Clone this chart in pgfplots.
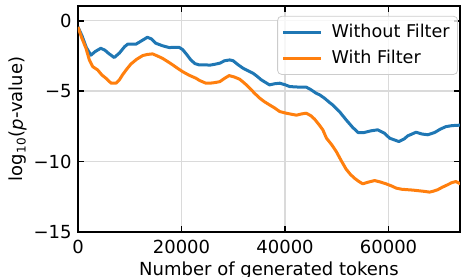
\documentclass[border=0pt]{standalone}
\usepackage{fontspec}
\setmainfont{DejaVu Sans}
\usepackage{pgfplots}
\pgfplotsset{compat=1.18}
\definecolor{tabblue}{HTML}{1F77B4}
\definecolor{taborange}{HTML}{FF7F0E}
\definecolor{gridgray}{HTML}{DADADA}
\begin{document}
\fontsize{9}{11}\selectfont
\begin{tikzpicture}
\begin{axis}[
  scale only axis,
  width=191pt, height=113.15pt,
  xmin=0, xmax=73800, ymin=-15, ymax=1.06,
  font=\fontsize{9}{11}\selectfont,
  axis line style={line width=0.9pt},
  major tick style={line width=0.9pt, black},
  major tick length=3pt,
  tick align=inside,
  xtick={0,20000,40000,60000},
  xticklabels={0,20000,40000,60000},
  ytick={-15,-10,-5,0},
  yticklabels={−15,−10,−5,0},
  scaled x ticks=false,
  xticklabel style={yshift=-1pt},
  grid=major,
  major grid style={gridgray, line width=0.6pt},
  xlabel={Number of generated tokens},
  ylabel={log\textsubscript{10}(\textit{p}-value)},
  x label style={at={(axis description cs:0.5,0)}, anchor=north, inner sep=0pt, yshift=-14.5pt},
  y label style={at={(axis description cs:-0.157,0.5)}, anchor=center},
  legend style={at={(rel axis cs:1,0.955)}, anchor=north east, xshift=-1pt, draw=gray!40, rounded corners=2pt,
    fill=white, fill opacity=0.8, text opacity=1, font=\fontsize{8.8}{11}\selectfont,
    inner xsep=2pt, inner ysep=2pt, row sep=1pt},
  legend cell align=left,
  legend image code/.code={\draw[#1] (0pt,0pt) -- (19pt,0pt); \path (21.5pt,0pt);},
]
\coordinate (sw) at (rel axis cs:0,0);
\coordinate (ne) at (rel axis cs:1,1);
\addplot[tabblue, line width=1.5pt, line join=round] coordinates {
(0,-0.45) (800,-1.1) (1600,-1.9) (2500,-2.45) (3300,-2.2) (4400,-1.96) (5200,-2.1) (6000,-2.35)
(7000,-2.62) (8000,-2.3) (9000,-1.85) (9600,-1.67) (11200,-1.67) (12200,-1.45) (13400,-1.18)
(14200,-1.3) (15000,-1.6) (16300,-1.78) (17600,-1.91) (19500,-1.89) (20200,-2.05) (21000,-2.4)
(21800,-2.79) (22600,-3.05) (23400,-3.14) (24700,-3.14) (25460,-3.16) (26400,-3.1) (27400,-3.02)
(28300,-2.85) (29300,-2.79) (29950,-2.84) (31000,-3.15) (31900,-3.38) (33800,-3.73) (34600,-3.95)
(35400,-4.2) (37000,-4.56) (38000,-4.48) (38960,-4.44) (40000,-4.55) (40900,-4.68) (42800,-4.72)
(44100,-4.72) (45000,-4.9) (46000,-5.15) (46700,-5.27) (47600,-5.5) (48600,-5.81) (49200,-5.98)
(50500,-6.45) (51800,-7.04) (53000,-7.55) (54100,-7.94) (55300,-7.94) (56600,-7.82) (57900,-7.75)
(59200,-7.99) (60200,-8.34) (61000,-8.45) (62000,-8.58) (63000,-8.4) (63700,-8.18) (65300,-7.92)
(66500,-8.05) (67600,-8.1) (68900,-7.94) (70000,-7.7) (71100,-7.52) (72300,-7.45) (73700,-7.42)
(74000,-7.42)
};
\addlegendentry{Without Filter}
\addplot[taborange, line width=1.5pt, line join=round] coordinates {
(0,-0.45) (700,-1.2) (1540,-1.96) (2200,-2.8) (2830,-3.26) (3800,-3.5) (4600,-3.85) (5400,-4.09)
(6400,-4.44) (7330,-4.44) (8000,-4.2) (8600,-3.85) (9400,-3.45) (10200,-3.09) (11300,-2.75)
(12500,-2.48) (13400,-2.4) (14400,-2.36) (15300,-2.5) (16300,-2.67) (17300,-2.9) (18300,-3.14)
(19300,-3.4) (20200,-3.62) (21500,-3.88) (22800,-4.09) (23500,-4.25) (24700,-4.44) (25460,-4.44)
(26400,-4.4) (27400,-4.33) (28300,-4.1) (29200,-3.9) (30200,-4.0) (31240,-4.16) (32200,-4.45)
(33170,-4.79) (34100,-5.15) (35100,-5.5) (36000,-5.75) (37000,-5.98) (38000,-6.2) (38960,-6.45)
(40000,-6.55) (40900,-6.62) (42200,-6.71) (43200,-6.62) (44100,-6.57) (45000,-6.75) (45700,-6.99)
(46500,-7.35) (47300,-7.75) (48000,-8.34) (49000,-8.8) (49900,-9.29) (50800,-9.9) (51800,-10.54)
(52600,-10.9) (53400,-11.18) (54200,-11.4) (55000,-11.58) (56200,-11.45) (57300,-11.35) (58400,-11.45)
(59500,-11.58) (60500,-11.72) (61500,-11.89) (62600,-11.97) (63700,-12.0) (64800,-12.03) (66000,-12.08)
(67000,-12.12) (67900,-12.17) (68700,-12.1) (69500,-12.0) (70400,-11.82) (71400,-11.65) (72200,-11.5)
(73000,-11.42) (73700,-11.55) (74000,-11.6)
};
\addlegendentry{With Filter}
\end{axis}
\pgfresetboundingbox
\path ([shift={(-39pt,-22.5pt)}]sw) rectangle ([shift={(0.5pt,2.85pt)}]ne);
\end{tikzpicture}
\end{document}
